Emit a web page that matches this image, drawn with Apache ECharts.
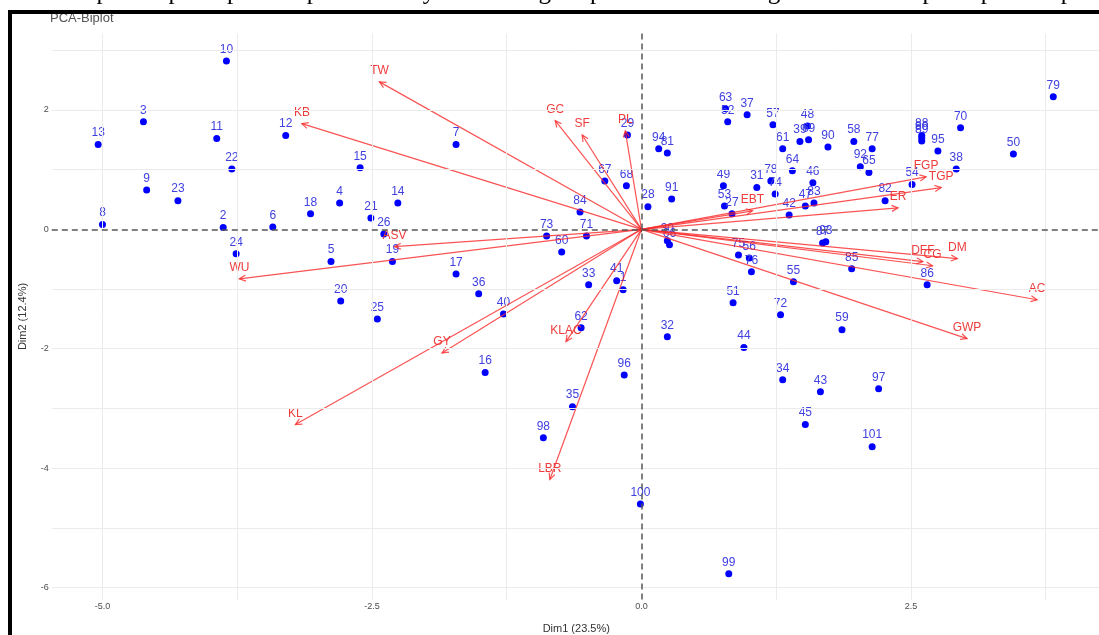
<!DOCTYPE html>
<html>
<head>
<meta charset="utf-8">
<style>
  html, body { margin: 0; padding: 0; background: #fff; }
  #chart { width: 1099px; height: 635px; }
</style>
<script src="https://cdn.jsdelivr.net/npm/echarts@6/dist/echarts.min.js"></script>
</head>
<body>
<div id="chart"></div>
<script>
// individuals (rice genotypes)
const pointIds = ['1','2','3','4','5','6','7','8','9','10','11','12','13','14','15','16','17','18','19','20',
  '21','22','23','24','25','26','27','28','29','30','31','32','33','34','35','36','37','38','39','40',
  '41','42','43','44','45','46','47','48','49','50','51','52','53','54','55','56','57','58','59','60',
  '61','62','63','64','65','66','67','68','69','70','71','72','73','74','75','76','77','78','79','80',
  '81','82','83','84','85','86','87','88','89','90','91','92','93','94','95','96','97','98','99','100','101'];
const dim1 = [-0.17,-3.88,-4.62,-2.80,-2.88,-3.42,-1.72,-5.00,-4.59,-3.85,-3.94,-3.30,-5.04,-2.26,-2.61,-1.45,-1.72,-3.07,-2.31,-2.79,
  -2.51,-3.80,-4.30,-3.76,-2.45,-2.39,0.84,0.06,-0.13,0.24,1.07,0.24,-0.49,1.31,-0.64,-1.51,0.98,2.92,1.47,-1.28,
  -0.23,1.37,1.66,0.95,1.52,1.59,1.52,1.54,0.76,3.45,0.85,0.80,0.77,2.51,1.41,1.00,1.22,1.97,1.86,-0.74,
  1.31,-0.56,0.78,1.40,2.11,0.26,-0.34,-0.14,1.55,2.96,-0.51,1.29,-0.88,1.24,0.90,1.02,2.14,1.20,3.82,2.60,
  0.24,2.26,1.60,-0.57,1.95,2.65,1.68,2.60,2.60,1.73,0.28,2.03,1.71,0.16,2.75,-0.16,2.20,-0.91,0.81,-0.01,2.14];
const dim2 = [-1.01,0.03,1.80,0.44,-0.54,0.04,1.42,0.08,0.66,2.82,1.52,1.57,1.42,0.44,1.03,-2.40,-0.75,0.26,-0.54,-1.20,
  0.19,1.01,0.48,-0.41,-1.50,-0.08,0.26,0.38,1.58,-0.19,0.70,-1.80,-0.93,-2.52,-2.97,-1.08,1.92,1.01,1.47,-1.42,
  -0.86,0.24,-2.72,-1.98,-3.27,0.78,0.39,1.73,0.73,1.26,-1.23,1.80,0.39,0.75,-0.88,-0.48,1.75,1.47,-1.68,-0.38,
  1.35,-1.65,2.02,0.98,0.95,-0.26,0.81,0.73,1.50,1.70,-0.11,-1.43,-0.11,0.59,-0.43,-0.71,1.35,0.81,2.22,1.53,
  1.28,0.48,0.44,0.29,-0.66,-0.93,-0.23,1.57,1.48,1.38,0.51,1.05,-0.21,1.35,1.31,-2.44,-2.67,-3.49,-5.77,-4.60,-3.64];

// variables (arrows)
const varNames = ['TW','KB','GC','SF','PL','ASV','WU','GY','KL','KLAC','LBR','EBT','FGP','TGP','ER','DFF','CG','DM','AC','GWP'];
const varDim1 = [-2.43,-3.15,-0.80,-0.55,-0.15,-2.29,-3.73,-1.85,-3.21,-0.70,-0.85,1.03,2.64,2.78,2.38,2.61,2.70,2.93,3.67,3.02];
const varDim2 = [2.47,1.77,1.82,1.58,1.65,-0.29,-0.83,-2.07,-3.27,-1.88,-4.19,0.31,0.88,0.70,0.36,-0.54,-0.61,-0.49,-1.18,-1.83];

// axis ticks and grid
const xTicks = [-5, -2.5, 0, 2.5];
const yTicks = [-6, -4, -2, 0, 2];
const xGrid = [-5, -3.75, -2.5, -1.25, 1.25, 2.5, 3.75];
const yGrid = [-6, -5, -4, -3, -2, -1, 1, 2, 3];

var chart = echarts.init(document.getElementById('chart'));

const font = '"Liberation Sans", Arial, sans-serif';
const arrowColor = 'rgba(250, 40, 40, 0.8)';

// gridlines + dashed origin lines
const gridLines = [];
xGrid.forEach(v => gridLines.push({ xAxis: v, lineStyle: { color: '#ebebeb', width: 1, type: 'solid' } }));
yGrid.forEach(v => gridLines.push({ yAxis: v, lineStyle: { color: '#ebebeb', width: 1, type: 'solid' } }));
gridLines.push({ xAxis: 0, lineStyle: { color: '#555', width: 1.5, type: [6, 4] } });
gridLines.push({ yAxis: 0, lineStyle: { color: '#555', width: 1.5, type: [6, 4] } });

const points = dim1.map((x, i) => [x, dim2[i]]);
const arrows = varDim1.map((x, i) => [x, varDim2[i]]);

var option = {
    animation: false,
    backgroundColor: '#fff',
    grid: { left: 51.8, right: -1.7, top: 33.5, bottom: 35.5, outerBoundsMode: 'none', containLabel: false },
    xAxis: {
        type: 'value',
        min: -5.47,
        max: 4.26,
        name: 'Dim1 (23.5%)',
        nameLocation: 'middle',
        nameGap: 24,
        nameTextStyle: { fontFamily: font, fontSize: 11, color: '#333' },
        axisLine: { show: false },
        splitLine: { show: false },
        axisTick: { show: true, customValues: xTicks, length: 3, lineStyle: { color: '#444' } },
        axisLabel: {
            customValues: xTicks,
            formatter: v => v.toFixed(1),
            fontFamily: font, fontSize: 9, color: '#4d4d4d', margin: 3
        }
    },
    yAxis: {
        type: 'value',
        min: -6.2,
        max: 3.28,
        name: 'Dim2 (12.4%)',
        nameLocation: 'middle',
        nameRotate: 90,
        nameGap: 23,
        nameTextStyle: { fontFamily: font, fontSize: 11, color: '#333' },
        axisLine: { show: false },
        splitLine: { show: false },
        axisTick: { show: true, customValues: yTicks, length: 3, lineStyle: { color: '#444' } },
        axisLabel: {
            customValues: yTicks,
            formatter: v => String(v),
            fontFamily: font, fontSize: 9, color: '#4d4d4d', margin: 3
        }
    },
    graphic: [
        {
            type: 'text', left: -67, top: -20, z: 10,
            style: {
                text: '{b|Figure 1.} Scree plot of principal component analysis of rice germplasm between Eigen values and principal components',
                font: '25px "Liberation Serif", "Times New Roman", serif',
                fill: '#000',
                rich: { b: { fontWeight: 'bold', fontSize: 25, fontFamily: '"Liberation Serif", serif' } }
            }
        },
        {
            type: 'text', x: 50, y: 18, z: 5,
            style: { text: 'PCA-Biplot', font: '13px ' + font, fill: '#555', verticalAlign: 'middle' }
        },
        {
            type: 'rect', z: 20,
            shape: { x: 10, y: 12, width: 1300, height: 800 },
            style: { fill: 'none', stroke: '#000', lineWidth: 4 }
        }
    ],
    series: [
        {
            type: 'line',
            data: [],
            z: 0,
            silent: true,
            markLine: { silent: true, symbol: ['none', 'none'], label: { show: false }, data: gridLines }
        },
        {
            name: 'individuals',
            type: 'scatter',
            z: 2,
            data: points,
            symbolSize: 7,
            itemStyle: { color: '#0000ff', opacity: 1 },
            label: {
                show: true,
                position: 'top',
                distance: 2,
                formatter: p => pointIds[p.dataIndex],
                fontFamily: font,
                fontSize: 12,
                color: '#4040e0'
            },
            labelLayout: { hideOverlap: false }
        },
        {
            name: 'variables',
            type: 'custom',
            z: 3,
            data: arrows,
            renderItem: function (params, api) {
                const p0 = api.coord([0, 0]);
                const p1 = api.coord([api.value(0), api.value(1)]);
                const ang = Math.atan2(p1[1] - p0[1], p1[0] - p0[0]);
                const h = 7, a = Math.PI / 7;
                const head = [
                    [p1[0] - h * Math.cos(ang - a), p1[1] - h * Math.sin(ang - a)],
                    p1,
                    [p1[0] - h * Math.cos(ang + a), p1[1] - h * Math.sin(ang + a)]
                ];
                return {
                    type: 'group',
                    children: [
                        { type: 'line', shape: { x1: p0[0], y1: p0[1], x2: p1[0], y2: p1[1] },
                          style: { stroke: arrowColor, lineWidth: 1.2 } },
                        { type: 'polyline', shape: { points: head },
                          style: { stroke: arrowColor, lineWidth: 1.2, fill: null } },
                        { type: 'text',
                          style: { text: varNames[params.dataIndex], x: p1[0], y: p1[1] - 11,
                                   align: 'center', verticalAlign: 'middle',
                                   font: '12px ' + font, fill: '#ee3b3b' } }
                    ]
                };
            }
        }
    ]
};

if (option && typeof option === 'object') {
    chart.setOption(option);
}
window.addEventListener('resize', chart.resize);
</script>
</body>
</html>
